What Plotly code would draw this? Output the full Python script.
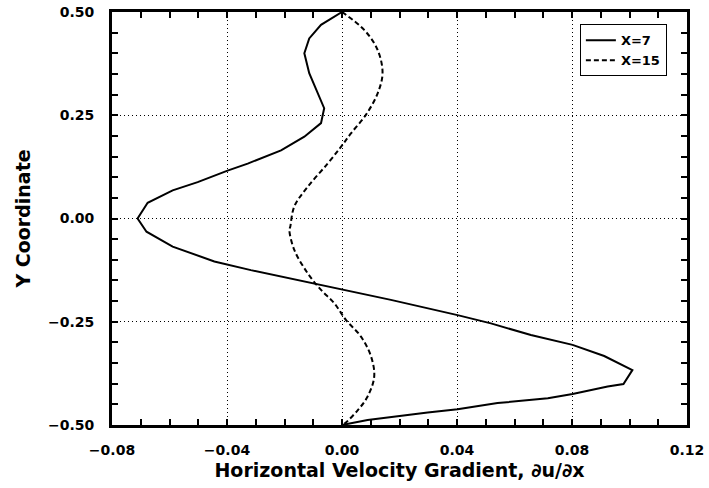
import plotly.graph_objects as go

# X=7 profile (solid)
x7_dudx = [0.0, -0.0073, -0.0114, -0.0131, -0.0114, -0.0085, -0.0062, -0.0073, -0.0131, -0.0212,
           -0.0328, -0.0398, -0.0502, -0.0589, -0.0676, -0.0711, -0.0680, -0.0589, -0.0444, -0.0317,
           -0.0096, 0.0, 0.0170, 0.0402, 0.0518, 0.0657, 0.0802, 0.0912, 0.1010, 0.0979,
           0.0924, 0.0802, 0.0716, 0.0541, 0.0402, 0.0298, 0.0160, 0.0089, 0.0]
x7_y = [0.50, 0.469, 0.436, 0.400, 0.352, 0.303, 0.267, 0.231, 0.198, 0.165,
        0.133, 0.116, 0.088, 0.068, 0.038, 0.000, -0.032, -0.068, -0.104, -0.125,
        -0.158, -0.172, -0.197, -0.234, -0.254, -0.282, -0.306, -0.333, -0.367, -0.401,
        -0.407, -0.425, -0.435, -0.447, -0.462, -0.470, -0.482, -0.488, -0.50]

# X=15 profile (dashed)
x15_dudx = [0.0, 0.0078, 0.0124, 0.0141, 0.0124, 0.0083, 0.0031, -0.0003, -0.0050, -0.0119,
            -0.0166, -0.0180, -0.0183, -0.0166, -0.0119, -0.0073, -0.0027, 0.0014, 0.0066, 0.0101,
            0.0112, 0.0089, 0.0055, 0.0010, 0.0]
x15_y = [0.50, 0.456, 0.408, 0.352, 0.303, 0.251, 0.206, 0.174, 0.133, 0.077,
         0.029, -0.020, -0.028, -0.076, -0.133, -0.173, -0.205, -0.246, -0.286, -0.334,
         -0.383, -0.431, -0.464, -0.496, -0.50]

x_ticks = [-0.08, -0.04, 0.00, 0.04, 0.08, 0.12]
y_ticks = [-0.50, -0.25, 0.00, 0.25, 0.50]

FONT = "DejaVu Sans"

fig = go.Figure()
fig.add_trace(go.Scatter(x=x7_dudx, y=x7_y, mode="lines", name="X=7",
                         line=dict(color="black", width=2, dash="solid")))
fig.add_trace(go.Scatter(x=x15_dudx, y=x15_y, mode="lines", name="X=15",
                         line_shape="spline",
                         line=dict(color="black", width=2, dash="5px,3px")))

axis_common = dict(
    showline=True, linecolor="black", linewidth=3, mirror="allticks",
    ticks="inside", ticklen=6, tickwidth=1.5, tickcolor="black",
    showgrid=True, gridcolor="black", gridwidth=1, griddash="1px,3px",
    zeroline=False, tickformat=".2f", automargin=False,
    tickfont=dict(family=FONT, size=14, color="black", weight="bold"),
)

fig.update_xaxes(
    range=[-0.08, 0.12], tickvals=x_ticks,
    minor=dict(dtick=0.01, tick0=-0.08, ticks="inside", ticklen=6, tickwidth=1.5,
               tickcolor="black", showgrid=False),
    title=dict(text="Horizontal Velocity Gradient, ∂u/∂x",
               font=dict(family=FONT, size=19, color="black", weight="bold"), standoff=7),
    ticklabelstandoff=10,
    **axis_common,
)
fig.update_yaxes(
    range=[-0.5, 0.5], tickvals=y_ticks,
    minor=dict(dtick=0.05, tick0=-0.5, ticks="inside", ticklen=6, tickwidth=1.5,
               tickcolor="black", showgrid=False),
    title=dict(text="Y Coordinate",
               font=dict(family=FONT, size=19, color="black", weight="bold"), standoff=13),
    ticklabelstandoff=12,
    **axis_common,
)

fig.update_layout(
    width=709, height=488,
    margin=dict(l=112, r=22, t=12, b=63),
    paper_bgcolor="white", plot_bgcolor="white",
    showlegend=True,
    legend=dict(x=0.965, y=0.97, xanchor="right", yanchor="top",
                bgcolor="white", bordercolor="black", borderwidth=1,
                font=dict(family=FONT, size=13, color="black", weight="bold")),
)

fig.write_html("out.html")
